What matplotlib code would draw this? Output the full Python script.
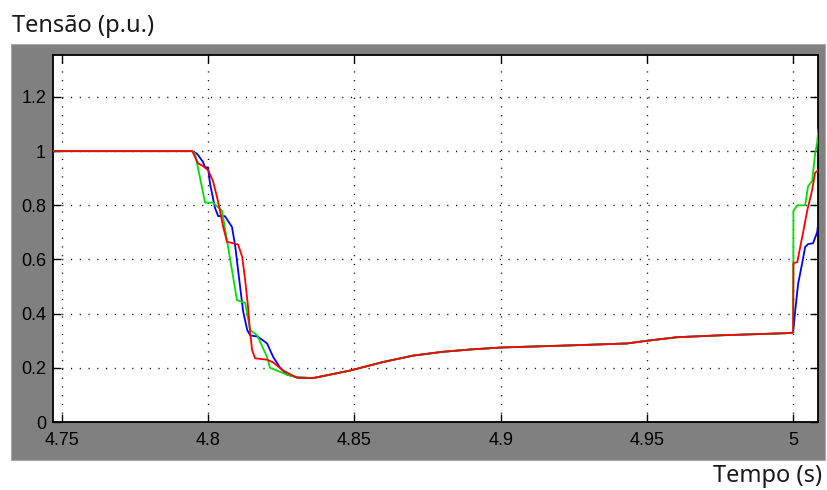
import matplotlib
matplotlib.use("Agg")
import matplotlib.pyplot as plt
from matplotlib.patches import Rectangle
import numpy as np

# ---------------- data ----------------
t_start = [4.747, 4.7945]
v_start = [1.0, 1.0]

t_blue_dip = [4.7962, 4.7982, 4.7989, 4.7999, 4.8006, 4.8023, 4.8034, 4.8057, 4.8081,
              4.8092, 4.8102, 4.8119, 4.8133, 4.8143, 4.8170, 4.8201, 4.8222, 4.8246,
              4.8269, 4.8304]
v_blue_dip = [0.99, 0.96, 0.94, 0.94, 0.88, 0.79, 0.76, 0.76, 0.72,
              0.65, 0.56, 0.41, 0.34, 0.32, 0.315, 0.29, 0.24, 0.20,
              0.175, 0.165]

t_green_dip = [4.7955, 4.7989, 4.8016, 4.8047, 4.8064, 4.8085, 4.8098, 4.8126, 4.8143,
               4.8167, 4.8201, 4.8211, 4.8246, 4.8269, 4.8304]
v_green_dip = [0.99, 0.81, 0.81, 0.78, 0.67, 0.535, 0.45, 0.44, 0.34,
               0.32, 0.24, 0.20, 0.185, 0.175, 0.165]

t_red_dip = [4.7965, 4.7982, 4.7999, 4.8016, 4.8030, 4.8040, 4.8051, 4.8064, 4.8085,
             4.8102, 4.8116, 4.8126, 4.8136, 4.8143, 4.8150, 4.8160, 4.8201, 4.8222,
             4.8256, 4.8304]
v_red_dip = [0.955, 0.945, 0.93, 0.89, 0.83, 0.78, 0.72, 0.665, 0.66,
             0.655, 0.61, 0.525, 0.425, 0.33, 0.265, 0.235, 0.23, 0.22,
             0.19, 0.163]

t_tail = [4.8358, 4.8485, 4.8600, 4.8700, 4.8800, 4.8900, 4.9001, 4.9272, 4.9432,
          4.9501, 4.9603, 4.9750, 4.9979, 5.0000]
v_tail = [0.162, 0.19, 0.222, 0.245, 0.259, 0.268, 0.275, 0.284, 0.29,
          0.30, 0.313, 0.32, 0.328, 0.33]

t_green_rec = [5.0001, 5.0014, 5.0041, 5.0051, 5.0065, 5.0075, 5.0082, 5.0086]
v_green_rec = [0.78, 0.80, 0.80, 0.87, 0.89, 0.99, 1.03, 1.08]

t_red_rec = [5.0001, 5.0014, 5.0024, 5.0034, 5.0048, 5.0065, 5.0075, 5.0086]
v_red_rec = [0.587, 0.59, 0.645, 0.70, 0.78, 0.857, 0.92, 0.93]

t_blue_rec = [5.0007, 5.0017, 5.0031, 5.0041, 5.0051, 5.0068, 5.0082, 5.0086]
v_blue_rec = [0.41, 0.51, 0.587, 0.646, 0.657, 0.66, 0.70, 0.735]

x_ticks = [4.75, 4.8, 4.85, 4.9, 4.95, 5.0]
x_labels = ["4.75", "4.8", "4.85", "4.9", "4.95", "5"]
y_ticks = [0, 0.2, 0.4, 0.6, 0.8, 1.0, 1.2]
y_labels = ["0", "0.2", "0.4", "0.6", "0.8", "1", "1.2"]

# ---------------- figure ----------------
W, H = 827, 490
fig = plt.figure(figsize=(W / 100, H / 100), dpi=100)
fig.patch.set_facecolor("white")

# gray scope frame (background axes)
bg = fig.add_axes([0, 0, 1, 1], zorder=-5)
bg.set_xlim(0, W)
bg.set_ylim(H, 0)
bg.axis("off")
bg.add_patch(Rectangle((11, 44), 825 - 11, 460 - 44, facecolor="#808080",
                       edgecolor="#a8a8a8", linewidth=0.8))

ax = fig.add_axes([53 / W, 1 - 422 / H, (818 - 53) / W, (422 - 55) / H], zorder=1)
ax.set_facecolor("white")

def series(t_dip, v_dip, t_rec, v_rec):
    t = t_start + t_dip + t_tail + t_rec
    v = v_start + v_dip + v_tail + v_rec
    return t, v

tb, vb = series(t_blue_dip, v_blue_dip, t_blue_rec, v_blue_rec)
tg, vg = series(t_green_dip, v_green_dip, t_green_rec, v_green_rec)
tr, vr = series(t_red_dip, v_red_dip, t_red_rec, v_red_rec)

ax.plot(tb, vb, color="#0000ff", lw=1.3, zorder=3)
ax.plot(tg, vg, color="#00e000", lw=1.3, zorder=4)
ax.plot(tr, vr, color="#ff0000", lw=1.3, zorder=5)

ax.set_xlim(4.7469, 5.0085)
ax.set_ylim(0, 1.355)

ax.set_xticks(x_ticks)
ax.set_xticklabels(x_labels)
ax.set_yticks(y_ticks)
ax.set_yticklabels(y_labels)

ax.grid(True, color="black", linestyle=(0, (0.8, 5.5)), linewidth=1.0)
ax.set_axisbelow(True)

ax.tick_params(direction="in", length=6, width=1.0, top=True, right=True,
               labelsize=13, colors="black")
ax.tick_params(axis="x", pad=7)
ax.tick_params(axis="y", pad=5)
for lab in ax.get_xticklabels() + ax.get_yticklabels():
    lab.set_family("Liberation Sans")

for s in ax.spines.values():
    s.set_color("black")
    s.set_linewidth(1.3)

fig.text(12 / W, 1 - 26 / H, "Tensão (p.u.)", fontsize=17, family="Noto Sans",
         color="#1a1a1a", ha="left", va="center")
fig.text(822 / W, 1 - 476 / H, "Tempo (s)", fontsize=17, family="Noto Sans",
         color="#1a1a1a", ha="right", va="center")

fig.savefig("out.png", dpi=100)
